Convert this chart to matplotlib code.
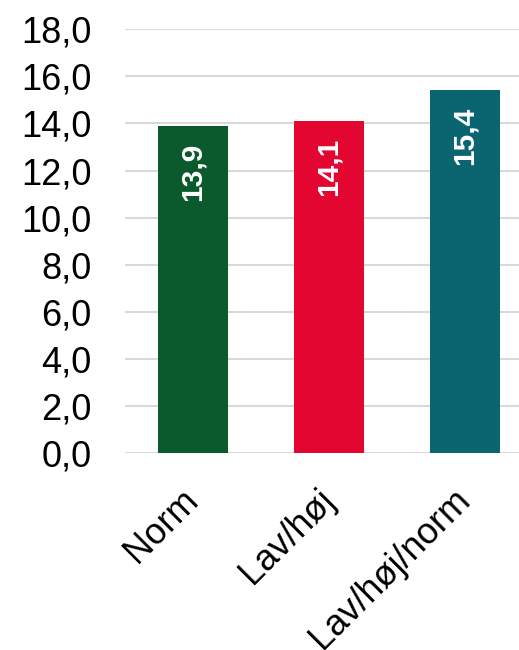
import matplotlib
matplotlib.use("Agg")
import matplotlib.pyplot as plt
from matplotlib.ticker import FuncFormatter

categories = ["Norm", "Lav/høj", "Lav/høj/norm"]
values = [13.9, 14.1, 15.4]
colors = ["#0B5A2E", "#E30631", "#0A6571"]

plt.rcParams['font.family'] = ['Liberation Sans', 'DejaVu Sans']

fig = plt.figure(figsize=(5.19, 6.5), dpi=100)
ax = fig.add_axes([0.2408, 0.303, 0.786, 0.652])

x = range(len(categories))
bars = ax.bar(x, values, width=0.51, color=colors, zorder=3)

for b, v in zip(bars, values):
    ax.annotate(f"{v:.1f}".replace(".", ","),
                (b.get_x() + b.get_width() / 2, v),
                xytext=(0, -12), textcoords="offset points",
                rotation=90, ha="center", va="top",
                color="white", fontsize=21.5, fontweight="bold", zorder=4)

ax.set_ylim(0, 18)
ax.set_xlim(-0.5, 2.5)
ax.set_yticks(range(0, 19, 2))
ax.yaxis.set_major_formatter(FuncFormatter(lambda v, p: f"{v:.1f}".replace(".", ",")))
ax.set_xticks(list(x))
ax.set_xticklabels(categories, rotation=45, ha="right", va="center",
                   rotation_mode="anchor")

ax.tick_params(axis="both", length=0, labelsize=26)
ax.tick_params(axis="y", pad=24)
ax.tick_params(axis="x", pad=30)
ax.grid(axis="y", color="#d9d9d9", linewidth=1.5, zorder=0)
for s in ax.spines.values():
    s.set_visible(False)

plt.savefig("out.png", dpi=100)
